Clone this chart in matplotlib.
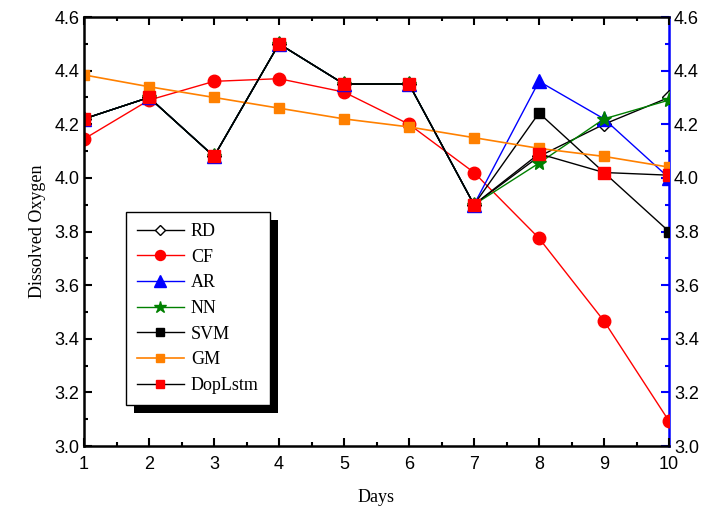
import matplotlib
matplotlib.use("Agg")
import matplotlib.pyplot as plt
from matplotlib.patches import Rectangle
from matplotlib.ticker import MultipleLocator, FormatStrFormatter

days = [1, 2, 3, 4, 5, 6, 7, 8, 9, 10]
RD = [4.22, 4.30, 4.08, 4.50, 4.35, 4.35, 3.90, 4.08, 4.20, 4.30]
CF = [4.145, 4.29, 4.36, 4.37, 4.32, 4.20, 4.02, 3.775, 3.466, 3.093]
AR = [4.22, 4.30, 4.08, 4.50, 4.35, 4.35, 3.90, 4.36, 4.22, 4.00]
NN = [4.22, 4.30, 4.08, 4.50, 4.35, 4.35, 3.90, 4.055, 4.22, 4.29]
SVM = [4.22, 4.30, 4.08, 4.50, 4.35, 4.35, 3.90, 4.242, 4.02, 3.80]
GM = [4.384, 4.34, 4.30, 4.26, 4.22, 4.19, 4.15, 4.11, 4.08, 4.04]
DopLstm = [4.22, 4.30, 4.08, 4.50, 4.35, 4.35, 3.90, 4.09, 4.02, 4.01]

fig = plt.figure(figsize=(7.05, 5.11), dpi=100)
ax = fig.add_axes([84/705, 1-446/511, (669-84)/705, (446-17)/511])

serif = ['Liberation Serif', 'DejaVu Serif']
sans = ['Liberation Sans', 'DejaVu Sans']

ax.plot(days, RD, color='black', lw=1, marker='D', ms=7, mfc='white', mec='black', label='RD')
ax.plot(days, CF, color='red', lw=1, marker='o', ms=9, mfc='red', mec='red', label='CF')
ax.plot(days, AR, color='blue', lw=1, marker='^', ms=10, mfc='blue', mec='blue', label='AR')
ax.plot(days, NN, color='green', lw=1, marker='*', ms=11, mfc='green', mec='green', label='NN')
ax.plot(days, SVM, color='black', lw=1, marker='s', ms=7, mfc='black', mec='black', label='SVM')
ax.plot(days, GM, color='#FF8000', lw=1.2, marker='s', ms=7, mfc='#FF8000', mec='#FF8000', label='GM')
ax.plot(days, DopLstm, color='black', lw=1, marker='s', ms=8, mfc='red', mec='red', label='DopLstm')

ax.set_xlim(1, 10)
ax.set_ylim(3.0, 4.6)
ax.xaxis.set_major_locator(MultipleLocator(1))
ax.xaxis.set_minor_locator(MultipleLocator(0.5))
ax.yaxis.set_major_locator(MultipleLocator(0.2))
ax.yaxis.set_minor_locator(MultipleLocator(0.1))
ax.yaxis.set_major_formatter(FormatStrFormatter('%.1f'))
ax.tick_params(which='both', direction='in', top=True, right=False, labelsize=13, width=1.5)
ax.tick_params(which='major', length=6)
ax.tick_params(which='minor', length=3)
ax.tick_params(axis='x', pad=7)
for lab in ax.get_xticklabels() + ax.get_yticklabels():
    lab.set_family(sans)
for s in ['left', 'bottom', 'top']:
    ax.spines[s].set_linewidth(1.8)
ax.spines['right'].set_visible(False)

ax2 = ax.twinx()
ax2.set_ylim(3.0, 4.6)
ax2.yaxis.set_major_locator(MultipleLocator(0.2))
ax2.yaxis.set_minor_locator(MultipleLocator(0.1))
ax2.yaxis.set_major_formatter(FormatStrFormatter('%.1f'))
ax2.tick_params(which='both', direction='in', colors='blue', labelcolor='black', labelsize=13, width=1.5)
ax2.tick_params(which='major', length=6)
ax2.tick_params(which='minor', length=3)
for lab in ax2.get_yticklabels():
    lab.set_family(sans)
ax2.spines['right'].set_color('blue')
ax2.spines['right'].set_linewidth(1.8)
for s in ['left', 'bottom', 'top']:
    ax2.spines[s].set_visible(False)

ax.set_xlabel('Days', family=serif, fontsize=13, labelpad=12)
ax.set_ylabel('Dissolved Oxygen', family=serif, fontsize=13, labelpad=6)

leg = ax.legend(loc='upper left', bbox_to_anchor=((126-84)/585, (446-212)/429),
                prop={'family': serif, 'size': 13}, frameon=True, fancybox=False,
                edgecolor='black', framealpha=1, handlelength=2.6, handletextpad=0.4,
                labelspacing=0.48, borderpad=0.6, borderaxespad=0, markerscale=0.8)
leg.get_frame().set_linewidth(1)
leg.set_zorder(10)

fig.canvas.draw()
bb = leg.get_window_extent().transformed(fig.transFigure.inverted())
off_x, off_y = 8/705, 8/511
shadow = Rectangle((bb.x0 + off_x, bb.y0 - off_y), bb.width, bb.height,
                   transform=fig.transFigure, facecolor='black', edgecolor='none', zorder=9)
ax.add_patch(shadow)
shadow.set_clip_on(False)
ax.set_zorder(2)
ax2.set_zorder(1)
ax.patch.set_visible(False)

fig.savefig('out.png', dpi=100)
